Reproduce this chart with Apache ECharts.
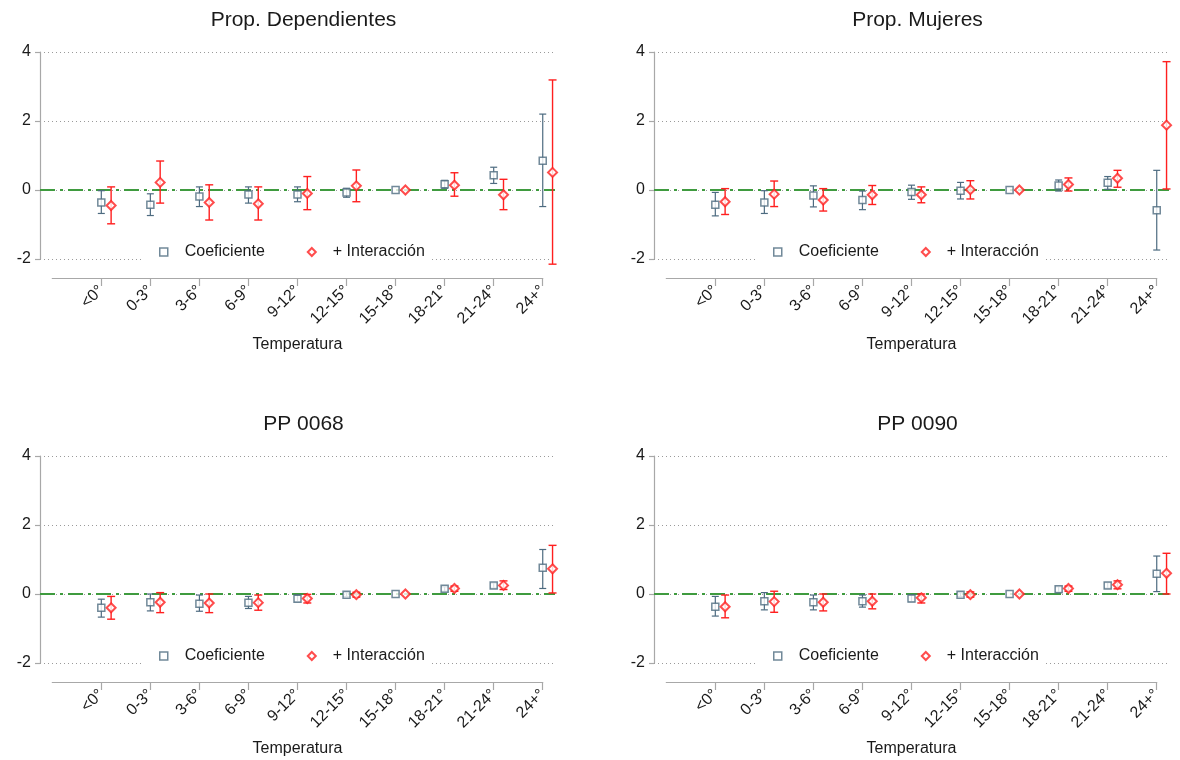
<!DOCTYPE html>
<html><head><meta charset="utf-8">
<script src="https://cdn.jsdelivr.net/npm/echarts@6/dist/echarts.min.js"></script>
<style>html,body{margin:0;padding:0;background:#fff}#c{width:1180px;height:760px}</style>
</head><body><div id="c"></div>
<script>
// ---------- data ----------
const categories = ['<0°', '0-3°', '3-6°', '6-9°', '9-12°', '12-15°', '15-18°', '18-21°', '21-24°', '24+°'];
const panelTitles = ['Prop. Dependientes', 'Prop. Mujeres', 'PP 0068', 'PP 0090'];
const yTickValues = [-2, 0, 2, 4];
const legendNames = ['Coeficiente', '+ Interacción'];
const axisTitle = 'Temperatura';

// Prop. Dependientes
const depCoef   = [-0.36, -0.43, -0.19, -0.13, -0.13, -0.07, 0, 0.17, 0.43, 0.85];
const depCoefLo = [-0.68, -0.74, -0.48, -0.38, -0.34, -0.21, 0, 0.05, 0.19, -0.48];
const depCoefHi = [-0.02, -0.11, 0.09, 0.09, 0.09, 0.05, 0, 0.28, 0.66, 2.20];
const depInt    = [-0.45, 0.22, -0.36, -0.40, -0.10, 0.12, 0, 0.14, -0.14, 0.51];
const depIntLo  = [-0.98, -0.38, -0.87, -0.87, -0.57, -0.34, 0, -0.18, -0.57, -2.15];
const depIntHi  = [0.09, 0.84, 0.15, 0.09, 0.39, 0.58, 0, 0.50, 0.31, 3.19];

// Prop. Mujeres
const mujCoef   = [-0.43, -0.36, -0.16, -0.29, -0.06, -0.02, 0, 0.13, 0.21, -0.59];
const mujCoefLo = [-0.75, -0.68, -0.49, -0.57, -0.27, -0.26, 0, -0.03, 0.02, -1.74];
const mujCoefHi = [-0.07, -0.02, 0.12, -0.03, 0.14, 0.22, 0, 0.29, 0.39, 0.57];
const mujInt    = [-0.34, -0.12, -0.29, -0.14, -0.14, 0.01, 0, 0.16, 0.34, 1.88];
const mujIntLo  = [-0.71, -0.48, -0.61, -0.42, -0.37, -0.26, 0, -0.03, 0.08, 0.03];
const mujIntHi  = [0.04, 0.26, 0.04, 0.13, 0.09, 0.27, 0, 0.35, 0.57, 3.72];

// PP 0068
const pp68Coef   = [-0.40, -0.24, -0.28, -0.25, -0.14, -0.02, 0, 0.15, 0.25, 0.76];
const pp68CoefLo = [-0.67, -0.49, -0.50, -0.42, -0.22, -0.07, 0, 0.08, 0.17, 0.16];
const pp68CoefHi = [-0.15, 0.00, -0.03, -0.07, -0.03, 0.04, 0, 0.21, 0.32, 1.29];
const pp68Int    = [-0.40, -0.24, -0.26, -0.25, -0.13, -0.02, 0, 0.16, 0.25, 0.73];
const pp68IntLo  = [-0.73, -0.54, -0.54, -0.47, -0.26, -0.09, 0, 0.08, 0.13, 0.03];
const pp68IntHi  = [-0.07, 0.04, 0.00, -0.03, -0.01, 0.05, 0, 0.23, 0.38, 1.41];

// PP 0090
const pp90Coef   = [-0.37, -0.21, -0.24, -0.21, -0.13, -0.02, 0, 0.14, 0.25, 0.59];
const pp90CoefLo = [-0.64, -0.46, -0.46, -0.38, -0.22, -0.07, 0, 0.06, 0.17, 0.07];
const pp90CoefHi = [-0.07, 0.04, -0.03, -0.03, -0.03, 0.04, 0, 0.21, 0.33, 1.10];
const pp90Int    = [-0.37, -0.22, -0.24, -0.21, -0.11, -0.02, 0, 0.16, 0.27, 0.60];
const pp90IntLo  = [-0.69, -0.53, -0.49, -0.43, -0.26, -0.09, 0, 0.08, 0.15, 0.00];
const pp90IntHi  = [-0.03, 0.08, 0.00, 0.00, 0.00, 0.06, 0, 0.23, 0.38, 1.18];

const panels = [
  [depCoef, depCoefLo, depCoefHi, depInt, depIntLo, depIntHi],
  [mujCoef, mujCoefLo, mujCoefHi, mujInt, mujIntLo, mujIntHi],
  [pp68Coef, pp68CoefLo, pp68CoefHi, pp68Int, pp68IntLo, pp68IntHi],
  [pp90Coef, pp90CoefLo, pp90CoefHi, pp90Int, pp90IntLo, pp90IntHi]
];

// ---------- style / layout ----------
const COEF_COLOR = '#4d6b80';
const INT_COLOR = '#ff1f1f';
const ZERO_COLOR = '#3f9b3f';
const AXIS_COLOR = '#a8a8a8';
const TEXT_COLOR = '#1a1a1a';
const FONT = 'Liberation Sans, Arial, sans-serif';
const DX = 614, DY = 404;
const PL = 40, PT = 52, PW = 515, PH = 207;
const XAXIS_Y = 278;
const XMIN = -0.25, XMAX = 10.25;
const UNIT = PW / (XMAX - XMIN);
const INT_OFFSET = 0.2;

function errRender(capHalf, color, width) {
  return function (params, api) {
    const x = api.value(0), lo = api.value(1), hi = api.value(2);
    if (lo === hi) return;
    const a = api.coord([x, lo]), b = api.coord([x, hi]);
    const st = { stroke: color, lineWidth: width };
    return { type: 'group', children: [
      { type: 'line', shape: { x1: a[0], y1: a[1], x2: b[0], y2: b[1] }, style: st },
      { type: 'line', shape: { x1: a[0] - capHalf, y1: a[1], x2: a[0] + capHalf, y2: a[1] }, style: st },
      { type: 'line', shape: { x1: b[0] - capHalf, y1: b[1], x2: b[0] + capHalf, y2: b[1] }, style: st }
    ]};
  };
}

const option = {
  backgroundColor: '#fff',
  animation: false,
  title: [], grid: [], xAxis: [], yAxis: [], legend: [], series: []
};

const tickPositions = categories.map((c, i) => i + 1);

panels.forEach((arr, p) => {
  const c = p % 2, r = Math.floor(p / 2);
  const ox = c * DX, oy = r * DY;
  const [coef, coefLo, coefHi, inter, interLo, interHi] = arr;
  const dg = 2 * p, ag = 2 * p + 1;

  option.title.push({
    text: panelTitles[p], left: PL + ox + PW / 2 + 6, top: PT + oy - 42, textAlign: 'center', padding: 0,
    textStyle: { fontFamily: FONT, fontSize: 21, fontWeight: 'normal', color: TEXT_COLOR }
  });

  // data grid
  option.grid.push({ left: PL + ox, top: PT + oy, width: PW, height: PH, containLabel: false });
  option.xAxis.push({ gridIndex: dg, type: 'value', min: XMIN, max: XMAX, show: false });
  option.yAxis.push({
    gridIndex: dg, type: 'value', min: -2, max: 4, interval: 2,
    axisLine: { show: true, onZero: false, lineStyle: { color: AXIS_COLOR, width: 1.2 } },
    axisTick: { show: true, length: 5, lineStyle: { color: AXIS_COLOR, width: 1.2 } },
    axisLabel: { margin: 9, fontFamily: FONT, fontSize: 16, color: TEXT_COLOR },
    splitLine: { show: true, lineStyle: { color: '#9a9a9a', type: [1, 3], width: 1 } }
  });

  // axis grid (category axis line drawn from position 0 to 10)
  option.grid.push({ left: PL + ox - XMIN * UNIT, top: XAXIS_Y - 10 + oy, width: 10 * UNIT, height: 10 });
  option.xAxis.push({
    gridIndex: ag, type: 'value', min: 0, max: 10, position: 'bottom',
    axisLine: { show: true, onZero: false, lineStyle: { color: AXIS_COLOR, width: 1.2 } },
    axisTick: { show: true, length: 8, customValues: tickPositions, lineStyle: { color: AXIS_COLOR, width: 1.2 } },
    axisLabel: {
      customValues: tickPositions, rotate: 45, margin: 10,
      formatter: v => categories[Math.round(v) - 1] || '',
      fontFamily: FONT, fontSize: 16, color: TEXT_COLOR
    },
    splitLine: { show: false },
    name: axisTitle, nameLocation: 'middle', nameGap: 59,
    nameTextStyle: { fontFamily: FONT, fontSize: 16, color: TEXT_COLOR }
  });
  option.yAxis.push({ gridIndex: ag, type: 'value', show: false });

  option.legend.push({
    left: 142 + ox, top: 241 + oy, orient: 'horizontal',
    backgroundColor: '#fff', padding: [3, 7, 3, 17],
    itemWidth: 8, itemHeight: 8, itemGap: 42,
    textStyle: { fontFamily: FONT, fontSize: 16, color: TEXT_COLOR, padding: [0, 0, 0, 12] },
    data: [
      { name: legendNames[0], icon: 'rect', itemStyle: { color: '#fff', borderColor: COEF_COLOR, borderWidth: 1.5 } },
      { name: legendNames[1], icon: 'diamond', itemStyle: { color: '#fff', borderColor: INT_COLOR, borderWidth: 2 } }
    ],
    selectedMode: false
  });

  const coefErr = coef.map((v, i) => [i + 1, coefLo[i], coefHi[i]]);
  const intErr = inter.map((v, i) => [i + 1 + INT_OFFSET, interLo[i], interHi[i]]);

  option.series.push({
    type: 'custom', name: 'errC' + p, xAxisIndex: dg, yAxisIndex: dg, z: 2,
    renderItem: errRender(3.5, COEF_COLOR, 1.2), data: coefErr, encode: { x: 0, y: [1, 2] },
    markLine: {
      silent: true, symbol: 'none', label: { show: false }, z: 1,
      lineStyle: { color: ZERO_COLOR, width: 2, type: [15, 5, 3, 5] },
      data: [{ yAxis: 0 }]
    }
  });
  option.series.push({
    type: 'custom', name: 'errI' + p, xAxisIndex: dg, yAxisIndex: dg, z: 2,
    renderItem: errRender(4, INT_COLOR, 1.4), data: intErr, encode: { x: 0, y: [1, 2] }
  });
  option.series.push({
    type: 'scatter', name: legendNames[0], xAxisIndex: dg, yAxisIndex: dg, z: 3, clip: false,
    symbol: 'rect', symbolSize: 7,
    itemStyle: { color: '#fff', borderColor: COEF_COLOR, borderWidth: 1.5 },
    data: coef.map((v, i) => [i + 1, v])
  });
  option.series.push({
    type: 'scatter', name: legendNames[1], xAxisIndex: dg, yAxisIndex: dg, z: 4, clip: false,
    symbol: 'diamond', symbolSize: 9,
    itemStyle: { color: '#fff', borderColor: INT_COLOR, borderWidth: 2 },
    data: inter.map((v, i) => [i + 1 + INT_OFFSET, v])
  });
});

const chart = echarts.init(document.getElementById('c'), null, { renderer: 'canvas' });
chart.setOption(option);
</script>
</body></html>
